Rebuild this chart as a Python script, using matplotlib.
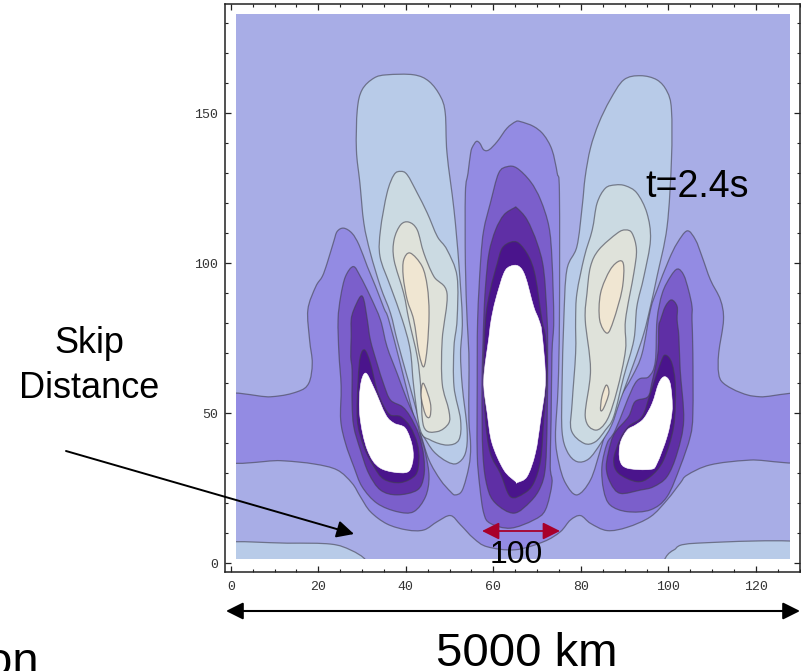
import matplotlib
matplotlib.use("Agg")
import matplotlib.pyplot as plt
from matplotlib.patches import Rectangle, PathPatch
from matplotlib.path import Path

W, H = 801, 671
plt.rcParams['font.family'] = ['Liberation Sans', 'DejaVu Sans']

# Contour outlines, in data units (x, y)
corner_left = [(-3, 6.4), (12.9, 6.7), (22.8, 6.4), (27.4, 4.4), (30.8, 1.1), (31, -3), (-3, -3)]
corner_right = [(99.1, 1.1), (101.2, 4.4), (106.5, 6.7), (133, 6.7), (133, -3), (99, -3)]

band = [(-3, 55.3), (9.1, 55.5), (15.2, 57.2), (17.8, 60), (18.6, 66.7), (18, 74.4), (17.6, 84.5),
        (19.4, 92.2), (20.9, 95.6), (22, 100), (23.5, 107.2), (24.3, 110.6), (25.8, 111.7), (27.7, 110),
        (29.3, 106.1), (31.2, 98.9), (33.1, 92.2), (35, 85), (36.1, 81.1), (39, 65), (42.6, 44.4), (43.3, 43.3),
        (45.3, 34.4), (47.9, 27.8), (50.2, 23.9), (51.3, 22.8), (52.9, 24.4), (54.4, 32.2), (54.8, 38.9),
        (54.4, 47.8), (54.4, 58.9), (54.4, 70), (54, 81.1), (53.6, 100), (53.6, 123.4), (54.2, 130),
        (54.8, 136.7), (55.2, 138.7), (56.1, 140.6), (56.9, 140), (57.8, 137.8), (59, 137.8), (60.9, 140.6),
        (63.1, 145), (65.1, 147.2), (66.2, 147.2), (69.2, 145.6), (71.5, 142.8), (73.4, 137.8), (74.6, 130),
        (75.1, 123.4), (75.1, 81.1), (74.8, 58.9), (74.2, 42.2), (75, 33.3), (76.5, 26.7), (79.1, 22.8),
        (82.2, 27.8), (84.5, 38), (86, 45.6), (88.2, 53.4), (91.7, 62.2), (94, 70), (95.9, 84.5), (97.4, 91.1),
        (100.1, 101.1), (102, 106.7), (104.3, 110.8), (106.2, 107.8), (107.7, 102.2), (109.6, 94.5),
        (111.9, 87.8), (112.6, 81.1), (111.5, 70), (111.5, 63.3), (112.6, 60), (116.5, 56.9), (121, 55.5),
        (133, 55.3), (133, 35), (118.7, 34.4), (109.6, 32.8), (104.3, 29.4), (102.7, 26.7), (99.7, 21.1),
        (95.9, 15.5), (90.6, 12), (86, 10.9), (82.2, 13.3), (79.9, 15.9), (77.6, 14.4), (75.3, 10.5),
        (71.5, 7.2), (65, 4.5), (58.6, 5.5), (55.5, 8.3), (52.5, 12.8), (50.2, 15.9), (47.2, 13.9),
        (44.1, 11.1), (40.3, 11.1), (35.7, 13.1), (31.9, 17.2), (29.6, 22.2), (27.7, 26.7), (24.3, 31.1),
        (19, 33.1), (11.4, 34.2), (-3, 35)]

purple2_left = [(28, 98.9), (26.2, 95.6), (25.1, 88.9), (24.5, 81.1), (24.7, 70), (25.2, 58.9), (25.1, 47.8),
                (26.2, 40), (28.1, 32.2), (30, 25.5), (33.4, 20), (38, 17.2), (41.8, 17.2), (44.5, 22.2),
                (45.3, 28.9), (44.5, 36.7), (43.3, 42.8), (42.6, 46.7), (40.3, 54.4), (38, 63.3), (35.7, 72.2),
                (34.2, 81.1), (31.9, 88.9), (29.6, 95.6)]
purple3_left = [(29.6, 88.9), (28.1, 84.5), (27.5, 81.1), (27.5, 75.5), (27.4, 68.9), (27.7, 64.4), (27.7, 53.3),
                (28.1, 45.5), (29.6, 37.8), (31.5, 30), (34.2, 24.4), (38, 22.8), (42.6, 24.4), (44.1, 28.9),
                (44.1, 35.5), (43, 42.8), (41, 48.9), (39.2, 52.2), (36.5, 54.4), (35, 59.4), (33.4, 66.7),
                (31.9, 74.4), (31.2, 81.1), (30.4, 87.8)]
purple4_left = [(30.6, 71.1), (29.6, 68.9), (29.1, 61.1), (28.9, 47.8), (30.4, 38.9), (32.7, 32.2), (35, 28),
                (38.8, 26.9), (42.2, 29.4), (43, 34.4), (42.6, 40), (41, 45.5), (38.8, 48.9), (36.5, 49.4),
                (35, 52.2), (33.4, 57.8), (31.9, 66.7)]
clipped_left = [(30.8, 63.4), (29.6, 58.9), (29.5, 48.9), (31.2, 37.8), (34.2, 31.7), (39.9, 30.2),
                (41.5, 33.4), (41.5, 38.9), (39.9, 45), (37.3, 46.7), (35.4, 49.5), (32.7, 58.4)]

purple2_mid = [(63.2, 132.2), (61.2, 130), (59.3, 120), (57.8, 111.1), (57.1, 101.1), (56.4, 81.1), (56.3, 58.9),
               (56.3, 36.7), (56.9, 25.5), (57.8, 16.7), (59.3, 13.3), (63.9, 11.7), (69.2, 14.4), (71.9, 17.8),
               (73.4, 26.7), (73, 32.2), (73.2, 47.8), (73.4, 70), (73.8, 81.1), (73.4, 101.1), (72.7, 112.2),
               (70.8, 121.1), (68.5, 127.2), (65.4, 131.7)]
purple3_mid = [(64.7, 118.4), (62.4, 116.1), (60.5, 111.1), (59, 103.4), (58.2, 92.2), (57.8, 81.1), (57.4, 58.9),
               (57.6, 36.7), (58.6, 25.5), (60.5, 20), (64.7, 16.7), (68.5, 20.6), (70.8, 25.5), (71.9, 32.2),
               (72.3, 47.8), (72.4, 70), (72.3, 81.1), (71.5, 97.8), (70, 106.7), (67.7, 114.5), (65.4, 118.4)]
purple4_mid = [(63.9, 107), (62, 105), (60.9, 100), (59.3, 91.1), (58.2, 81.1), (57.8, 64.5), (58.2, 47.8),
               (59.3, 36.7), (61.6, 30), (63.9, 22.2), (67, 23.3), (69.2, 26.7), (70.8, 34.4), (71.5, 47.8),
               (72.3, 64.4), (71.9, 75.5), (71.1, 81.1), (69.6, 95.6), (68.1, 102.2), (65.8, 106.7)]
clipped_mid = [(63.9, 99), (62.4, 96.7), (60.5, 87.8), (59.5, 81.1), (59, 75.5), (57.8, 61.1), (58.6, 50),
               (59.7, 40), (62.4, 31.1), (65.1, 27.2), (65.4, 26.9), (67.7, 28.9), (69.6, 36.7), (70.8, 47.8),
               (71.9, 61.1), (71.1, 76.7), (70.4, 81.1), (69.2, 85.6), (67.3, 95.6), (65.8, 99)]

purple2_right = [(102.1, 98.1), (100.5, 95.6), (98.6, 90), (97.4, 81.1), (97, 67.2), (95.5, 62.2), (92.4, 60),
                 (87.9, 44.5), (86, 40), (84.8, 32.2), (85.2, 24.4), (86.7, 19.4), (90.6, 17.2), (95.9, 17.8),
                 (99.7, 22.2), (102.7, 32.2), (105, 42.2), (105.6, 50), (105.6, 70), (105.4, 81.1), (105.4, 85.6),
                 (104.6, 91.1), (103.5, 96.1)]
purple3_right = [(100.7, 87.8), (99.3, 85.6), (98.2, 81.1), (97.8, 78.9), (97.6, 70), (96.2, 60), (95.3, 55.5),
                 (92.4, 53.9), (90.9, 48.9), (88, 44), (86.8, 40), (85.8, 32.2), (86.8, 26.7), (89, 23.3),
                 (93.6, 24.4), (96.6, 25.5), (99.7, 28.9), (102, 36.7), (103.5, 47.8), (102.7, 64.4), (102.4, 75.5),
                 (102, 81.1), (102, 85.6)]
purple4_right = [(99.3, 69.4), (98.2, 66.7), (95.9, 56.7), (94, 48.9), (90.9, 45.6), (88.9, 41.1), (87.5, 34.5),
                 (88.6, 30), (92.8, 27.2), (95.9, 28.9), (98.9, 34.4), (101.2, 45.5), (101.6, 58.9), (100.8, 66.7)]
clipped_right = [(99.1, 62.2), (97.8, 60), (96.3, 53.3), (94.4, 48.3), (92.5, 46.1), (90.6, 44.4), (89, 40),
                 (88.9, 34.4), (90.6, 31.7), (95.9, 31.3), (97.4, 33.3), (99.7, 42.2), (100.8, 50), (100.8, 55.5),
                 (100.3, 60.5)]

blue_left = [(35.7, 162.8), (32.7, 161.7), (30, 157.8), (28.9, 151.1), (28.7, 137.8), (29.5, 126.7), (30.4, 113.4),
             (31.9, 103.4), (34.2, 92.2), (36.5, 83.3), (38, 74.4), (40.3, 62.2), (42.6, 50), (43.7, 43.3),
             (44.1, 42.2), (46.4, 37.2), (49.4, 33.9), (51.7, 33.3), (53.6, 36.7), (54, 44.4), (52.9, 58.9),
             (52.5, 70), (52.9, 81.1), (52.1, 100), (51, 117.8), (49.4, 136.7), (49, 150), (47.9, 155.6),
             (45.3, 160.6), (41.8, 162.8)]
pale_left = [(38.8, 130.6), (37.3, 129.5), (35.7, 123.4), (34.2, 111.1), (34.1, 102.2), (36.5, 92.2), (39.2, 81.1),
             (41, 71.1), (41.8, 58.9), (43.3, 44.4), (45.6, 41.1), (49.4, 39.4), (52.1, 41.1), (52.5, 47.8),
             (51, 58.9), (51, 72.2), (51.7, 81.1), (51.7, 95.6), (49.4, 104.5), (47.2, 108.9), (44.9, 116.7),
             (42.6, 123.4), (40.3, 129.5)]
grey_left = [(40.7, 113.7), (38.8, 112.8), (37.3, 107.8), (37.3, 101.1), (39.5, 90), (40.7, 81.1), (42.6, 68.9),
             (43.4, 58.9), (44.1, 45.5), (47.2, 43.9), (49.8, 46.7), (49.8, 51.1), (48.3, 60), (48.3, 74.4),
             (49.4, 90), (46.4, 95.6), (44.1, 103.4), (42.6, 111.1)]
cream_left = [(41, 103.4), (39.5, 101.1), (39.4, 95.6), (40.3, 87.8), (41.8, 81.1), (43, 70), (44.1, 65.5),
              (44.9, 72.2), (45.3, 83.3), (44.9, 92.2), (43.7, 99)]
cream_left_small = [(44, 60), (45.6, 53.4), (45.5, 48.9), (44.5, 49.5), (43.5, 55.6)]

blue_right = [(93.6, 162.5), (89.8, 161.1), (86.7, 154.5), (84.1, 146.7), (82.2, 138.4), (81, 128.9), (80.3, 118.9),
              (79.1, 105.6), (76.8, 97.8), (76.1, 81.1), (75.7, 58.9), (75.7, 44), (76.9, 37.2), (79.1, 33.9),
              (81.8, 34.8), (84.5, 39.9), (87, 46), (89, 54.4), (92.1, 66.7), (94.4, 76.7), (95.9, 85.6),
              (97.4, 95.6), (99.7, 112.2), (100.7, 134.5), (100.7, 151.1), (99.7, 157.2), (97.4, 161.1)]
pale_right = [(87.9, 126.1), (85.6, 125), (83.7, 120), (82.6, 111.1), (80.8, 102.2), (79.1, 90), (78.8, 81.1),
              (78.8, 70), (78, 53.3), (77.8, 44.4), (80.7, 40), (83.3, 40.5), (85.6, 44.4), (87.5, 48.9),
              (89.8, 62.2), (92.1, 74.4), (92.8, 85.6), (94.4, 95.6), (95.9, 107.8), (95.1, 116.7), (92.8, 123.4),
              (90.2, 125.8)]
grey_right = [(90.2, 111.1), (88.3, 110), (84.1, 104.5), (82.2, 98.9), (81.4, 90), (81, 81.1), (82.2, 64.4),
              (81, 48.9), (83.3, 44.4), (86, 47.8), (88.3, 57.8), (90.2, 71.1), (90.2, 81.1), (92.1, 96.7),
              (92.7, 104.5), (91.7, 110)]
cream_right = [(88.9, 100.8), (86.7, 97.8), (84.5, 90), (84.3, 81.1), (86, 76.7), (87.5, 81.1), (89.4, 91.1),
               (89.8, 98.9)]
cream_right_small = [(85.8, 59.4), (84.8, 55.5), (84.5, 51.1), (85.2, 51.7), (86.4, 56.7)]

plot_x = (1.2, 127.9)
plot_y = (1.3, 183.0)
x_major = [0, 20, 40, 60, 80, 100, 120]
y_major = [0, 50, 100, 150]

C_BG = '#a8ade6'
C_BLUE = '#b8cbe8'
C_PALE = '#cbdae2'
C_GREY = '#dfe2da'
C_CREAM = '#f0e6d2'
C_P1 = '#938be3'
C_P2 = '#7b5fcb'
C_P3 = '#5f2fa5'
C_P4 = '#4a148c'
EDGE = (0.25, 0.25, 0.3, 0.6)

layers = [
    (corner_left, C_BLUE), (corner_right, C_BLUE), (band, C_P1),
    (purple2_left, C_P2), (purple2_mid, C_P2), (purple2_right, C_P2),
    (purple3_left, C_P3), (purple3_mid, C_P3), (purple3_right, C_P3),
    (purple4_left, C_P4), (purple4_mid, C_P4), (purple4_right, C_P4),
    (blue_left, C_BLUE), (blue_right, C_BLUE),
    (pale_left, C_PALE), (pale_right, C_PALE),
    (grey_left, C_GREY), (grey_right, C_GREY),
    (cream_left, C_CREAM), (cream_left_small, C_CREAM),
    (cream_right, C_CREAM), (cream_right_small, C_CREAM),
]
clipped = [clipped_left, clipped_mid, clipped_right]


def rounded_path(pts):
    """Closed Bezier path passing through the outline's points."""
    n = len(pts)
    verts = [pts[0]]
    codes = [Path.MOVETO]
    for i in range(n):
        p0, p1, p2, p3 = pts[i - 1], pts[i], pts[(i + 1) % n], pts[(i + 2) % n]
        c1 = (p1[0] + (p2[0] - p0[0]) / 6, p1[1] + (p2[1] - p0[1]) / 6)
        c2 = (p2[0] - (p3[0] - p1[0]) / 6, p2[1] - (p3[1] - p1[1]) / 6)
        verts += [c1, c2, p2]
        codes += [Path.CURVE4] * 3
    return Path(verts, codes)


fig = plt.figure(figsize=(W / 100, H / 100), dpi=100, facecolor='white')
ax = fig.add_axes([224.5 / W, 1 - 571.7 / H, (800.3 - 224.5) / W, (571.7 - 4) / H])
ax.set_xlim(-1.45, 130.15)
ax.set_ylim(-2.8, 186.4)

frame = Rectangle((plot_x[0], plot_y[0]), plot_x[1] - plot_x[0], plot_y[1] - plot_y[0],
                  facecolor=C_BG, edgecolor='none', zorder=1)
ax.add_patch(frame)
for i, (outline, colour) in enumerate(layers):
    p = PathPatch(rounded_path(outline), facecolor=colour, edgecolor=EDGE, linewidth=0.9, zorder=2 + i * 0.01)
    ax.add_patch(p)
    p.set_clip_path(frame)
for outline in clipped:
    ax.add_patch(PathPatch(rounded_path(outline), facecolor='white', edgecolor='white', linewidth=0.4, zorder=3))

ax.set_xticks(x_major)
ax.set_xticks(range(0, 131, 5), minor=True)
ax.set_yticks(y_major)
ax.set_yticks(range(0, 181, 10), minor=True)
ax.tick_params(which='major', direction='in', length=4.5, width=0.9, top=True, right=True, color='#222222')
ax.tick_params(which='minor', direction='in', length=2.2, width=0.8, top=True, right=True, color='#222222')
ax.tick_params(axis='x', which='major', pad=7)
ax.tick_params(axis='y', which='major', pad=4.5)
for lab in ax.get_xticklabels() + ax.get_yticklabels():
    lab.set_family('Liberation Mono')
    lab.set_fontsize(9.5)
    lab.set_color('#333333')
for s in ax.spines.values():
    s.set_linewidth(1.1)
    s.set_color('#222222')

# Slide annotations, placed in pixel positions over the plot
ov = fig.add_axes([0, 0, 1, 1], facecolor='none')
ov.set_xlim(0, W)
ov.set_ylim(H, 0)
ov.axis('off')
ov.text(89, 353, 'Skip', ha='center', va='baseline', fontsize=26)
ov.text(89, 398, 'Distance', ha='center', va='baseline', fontsize=26)
ov.text(645, 197, 't=2.4s', ha='left', va='baseline', fontsize=27)
ov.text(516, 563, '100', ha='center', va='baseline', fontsize=23)
ov.text(527, 666, '5000 km', ha='center', va='baseline', fontsize=34)
ov.text(39, 675, 'on', ha='right', va='baseline', fontsize=34)


def arrow(style, start, end, colour, lw):
    ov.annotate('', xy=end, xytext=start, arrowprops=dict(
        arrowstyle=style, color=colour, lw=lw, mutation_scale=26, shrinkA=0, shrinkB=0))


arrow('-|>', (66, 451), (354, 534), 'black', 1.4)
arrow('<|-|>', (226, 611), (800, 611), 'black', 1.5)
arrow('<|-|>', (482, 531), (560, 531), '#a8002a', 1.3)

fig.savefig('out.png', dpi=100)
